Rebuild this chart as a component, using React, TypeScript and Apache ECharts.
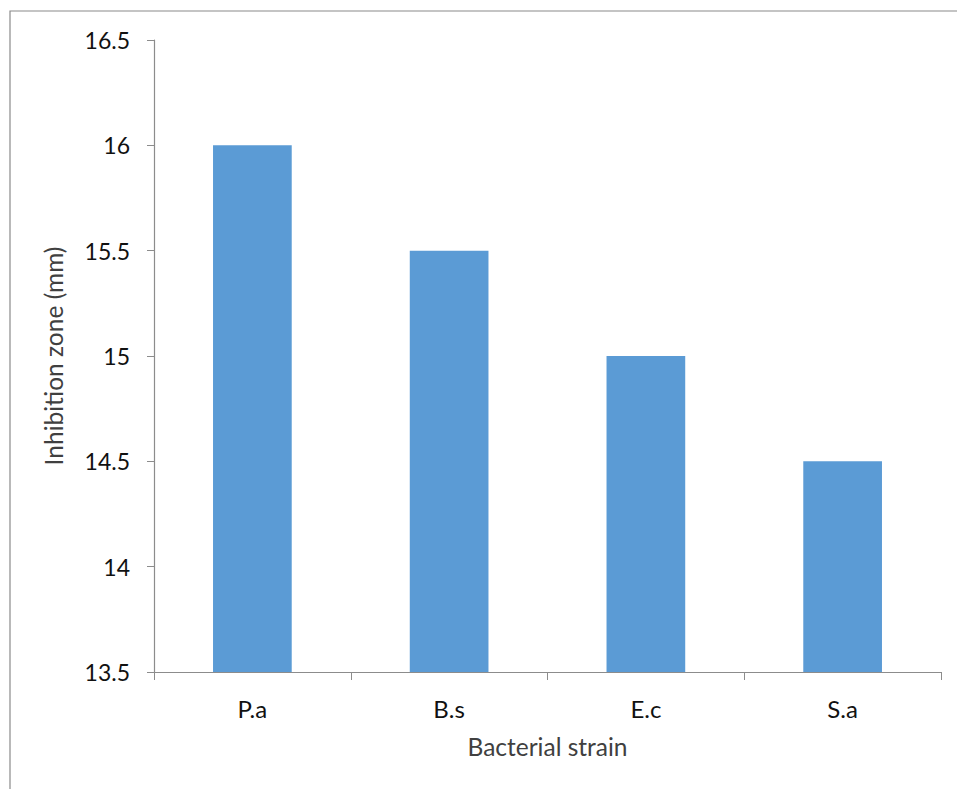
import React, { useEffect, useRef } from "react";
import * as echarts from "echarts";

const categories = ["P.a", "B.s", "E.c", "S.a"];
const values = [16, 15.5, 15, 14.5];
const yMin = 13.5;
const yMax = 16.5;
const yInterval = 0.5;

const FONT = "Lato, 'Open Sans', sans-serif";

export default function App() {
  const ref = useRef<HTMLDivElement>(null);
  useEffect(() => {
    if (!ref.current) return;
    const chart = echarts.init(ref.current, undefined, { renderer: "svg" });
    chart.setOption({
      animation: false,
      backgroundColor: "#ffffff",
      graphic: [
        {
          type: "rect",
          shape: { x: 10, y: 11, width: 1000, height: 900 },
          style: { fill: "none", stroke: "#8a8a8a", lineWidth: 1.2 },
          silent: true,
        },
      ],
      grid: { left: 154, top: 40, right: 16, bottom: 117, containLabel: false },
      xAxis: {
        type: "category",
        data: categories,
        name: "Bacterial strain",
        nameLocation: "middle",
        nameGap: 62,
        nameTextStyle: { fontFamily: FONT, fontSize: 24.5, color: "#404040" },
        axisLine: { lineStyle: { color: "#8c8c8c", width: 1.2 } },
        axisTick: { show: true, length: 8, alignWithLabel: false, lineStyle: { color: "#8c8c8c" } },
        axisLabel: { fontFamily: FONT, fontSize: 24, color: "#111", margin: 24 },
      },
      yAxis: {
        type: "value",
        min: yMin,
        max: yMax,
        interval: yInterval,
        name: "Inhibition zone (mm)",
        nameLocation: "middle",
        nameGap: 88,
        nameRotate: 90,
        nameTextStyle: { fontFamily: FONT, fontSize: 24.5, color: "#404040" },
        axisLine: { show: true, lineStyle: { color: "#8c8c8c", width: 1.2 } },
        axisTick: { show: true, length: 7, lineStyle: { color: "#8c8c8c" } },
        splitLine: { show: false },
        axisLabel: {
          fontFamily: FONT,
          fontSize: 23,
          color: "#111",
          margin: 24,
          formatter: (v: number) => String(v),
        },
      },
      series: [
        {
          type: "bar",
          data: values,
          barWidth: "40%",
          itemStyle: { color: "#5b9bd5" },
        },
      ],
    });
    return () => chart.dispose();
  }, []);
  return <div ref={ref} style={{ width: 957, height: 789, position: "absolute", left: 0, top: 0 }} />;
}
